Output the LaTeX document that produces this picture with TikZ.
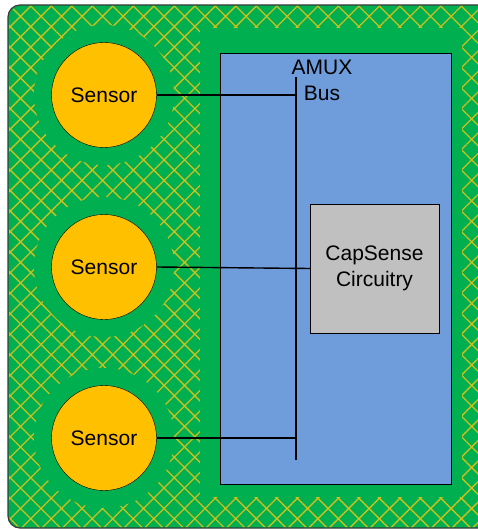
\documentclass[tikz,border=0pt]{standalone}
\usepackage{fontspec}
\setmainfont{Liberation Sans}
\usepackage{xcolor}
\usepackage{tikz}
\usetikzlibrary{patterns.meta,positioning}
\definecolor{boardGreen}{HTML}{00AF50}
\definecolor{hatchYellow}{HTML}{CCC01C}
\definecolor{chipBlue}{HTML}{6F9CDA}
\definecolor{padOrange}{HTML}{FFC000}
\definecolor{boxGray}{HTML}{C0C0C0}
\definecolor{edgeGray}{HTML}{3A3A3A}

\begin{document}
\begin{tikzpicture}[
  x=1pt, y=-1pt,
  every node/.style={font=\fontsize{21}{26}\selectfont},
  sensor/.style={
    circle, draw=black, thin, fill=padOrange,
    minimum size=105pt, inner sep=0pt,
  },
  keepout/.style={fill=boardGreen},
  wire/.style={black, line width=1.4pt},
]

\useasboundingbox (0,0) rectangle (478,529);
\clip (0,0) rectangle (478,529);

% === Board with hatched ground fill ===
\draw[edgeGray, line width=1.2pt, rounded corners=12pt, fill=boardGreen]
  (8,5) rectangle (520,528);
\fill[pattern={Hatch[angle=45,distance=14.5pt,line width=1.3pt]},
  pattern color=hatchYellow, rounded corners=12pt]
  (9,6) rectangle (520,527);

% === Keep-out areas ===
\fill[keepout] (200,28) rectangle (462,497);
\fill[keepout] (104,95) circle (70);
\fill[keepout] (104,267) circle (70);
\fill[keepout] (104,438) circle (70);

% === Chip ===
\draw[black, fill=chipBlue] (220,53) rectangle (451,484);

% === Sensors ===
\node[sensor] (s1) at (104,95) {Sensor};
\node[sensor] (s2) at (104,267) {Sensor};
\node[sensor] (s3) at (104,438) {Sensor};

% === CapSense block ===
\node[draw=black, fill=boxGray, minimum width=129pt, minimum height=129pt,
  align=center, inner sep=0pt] (capsense) at (374.5,268.5) {CapSense\\Circuitry};

% === AMUX bus ===
\coordinate (bustop) at (296,77);
\coordinate (busbot) at (296,460);
\node[align=center, inner sep=0pt] (buslabel) at (322,80) {AMUX\\Bus};
\draw[wire, line width=1.8pt] (bustop) -- (busbot);

\draw[wire] (s1.east) -- (s1.east -| bustop);
\draw[wire] (s2.east) -- (capsense.west);
\draw[wire] (s3.east) -- (s3.east -| bustop);

\end{tikzpicture}
\end{document}
